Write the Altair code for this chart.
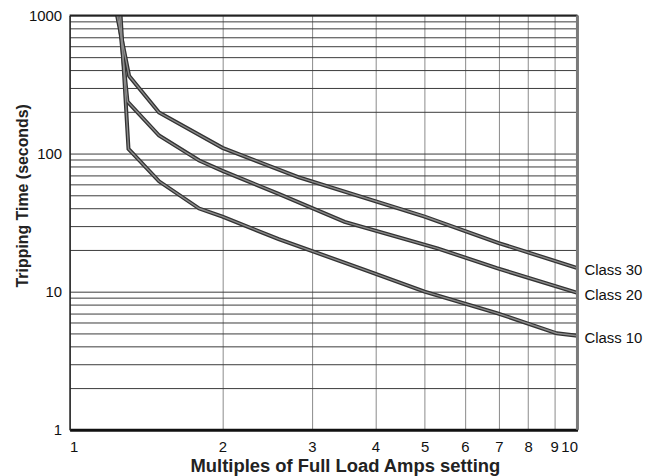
import altair as alt
import pandas as pd

# ---- data ----
x_ticks = [1, 2, 3, 4, 5, 6, 7, 8, 9, 10]
y_grid = [1, 2, 3, 4, 5, 6, 7, 8, 9,
          10, 20, 30, 40, 50, 60, 70, 80, 90,
          100, 200, 300, 400, 500, 600, 700, 800, 900, 1000]
y_labels = [1, 10, 100, 1000]

class30_x = [1.24, 1.31, 1.50, 2.0, 2.82, 5.0, 7.0, 10]
class30_y = [1000, 364, 198, 110, 67.5, 35, 22.5, 14.8]
class20_x = [1.25, 1.30, 1.50, 1.80, 2.0, 2.58, 3.48, 5.3, 6.94, 10]
class20_y = [1000, 238, 135, 89, 75, 51, 32, 20.6, 14.8, 9.8]
class10_x = [1.26, 1.306, 1.50, 1.80, 2.0, 2.58, 3.81, 5.0, 6.94, 9.1, 10]
class10_y = [1000, 108, 63, 40, 34.9, 24, 14.4, 10, 7.0, 5.0, 4.8]
series_names = ["Class 30", "Class 20", "Class 10"]

rows = []
for name, xs, ys in zip(series_names, [class30_x, class20_x, class10_x],
                        [class30_y, class20_y, class10_y]):
    for i, (xv, yv) in enumerate(zip(xs, ys)):
        rows.append({"series": name, "x": xv, "y": yv, "order": i})
df = pd.DataFrame(rows)
df_end = df.sort_values("order").groupby("series").tail(1)

W, H = 511, 417
FONT = "Liberation Sans"

xscale = alt.Scale(type="log", domain=[1, 10], nice=False)
yscale = alt.Scale(type="log", domain=[1, 1000], nice=False)

ylab_expr = "(" + " || ".join(f"datum.value == {v}" for v in y_labels) + ") ? format(datum.value, 'd') : ''"

x_axis = alt.Axis(
    values=x_ticks, format="d", grid=True, gridColor="#8a8a8a", gridWidth=1,
    ticks=False, domain=True, domainColor="#111111", domainWidth=3,
    labelPadding=10, labelFont=FONT, labelFontSize=15, labelColor="#111111",
    title="Multiples of Full Load Amps setting", titleFont=FONT, titleFontSize=18.5,
    titleFontWeight="bold", titleColor="#222222", titleX=277, titleY=42,
    titleBaseline="alphabetic", titleAlign="center",
)
y_axis = alt.Axis(
    values=y_grid, labelExpr=ylab_expr, grid=True, gridColor="#3a3a3a", gridWidth=1,
    ticks=False, domain=True, domainColor="#222222", domainWidth=1.5,
    labelPadding=8, labelFont=FONT, labelFontSize=15, labelColor="#111111",
    labelBaseline="middle",
    title="Tripping Time (seconds)", titleFont=FONT, titleFontSize=16,
    titleFontWeight="bold", titleColor="#222222", titleX=-42, titleY=181,
    titleAngle=270, titleBaseline="alphabetic", titleAlign="center",
)

lines_outer = alt.Chart(df).mark_line(color="#333333", strokeWidth=4).encode(
    x=alt.X("x:Q", scale=xscale, axis=x_axis),
    y=alt.Y("y:Q", scale=yscale, axis=y_axis),
    detail="series:N",
    order="order:Q",
)
lines_inner = alt.Chart(df).mark_line(color="#8c8c8c", strokeWidth=1.4).encode(
    x=alt.X("x:Q", scale=xscale),
    y=alt.Y("y:Q", scale=yscale),
    detail="series:N",
    order="order:Q",
)

labels = alt.Chart(df_end).mark_text(
    align="left", baseline="middle", dx=7, dy=2, font=FONT, fontSize=15, color="#111111"
).encode(
    x=alt.X("x:Q", scale=xscale),
    y=alt.Y("y:Q", scale=yscale),
    text="series:N",
)

frame_df = pd.DataFrame({"k": [0]})
top_rule = alt.Chart(frame_df).mark_rule(color="#222222", strokeWidth=2).encode(
    x=alt.value(0), x2=alt.value(W), y=alt.value(0)
)
right_rule = alt.Chart(frame_df).mark_rule(color="#7a7a7a", strokeWidth=3).encode(
    x=alt.value(W), y=alt.value(0), y2=alt.value(H)
)

chart = alt.layer(lines_outer, lines_inner, top_rule, right_rule, labels).properties(
    width=W, height=H,
    autosize=alt.AutoSizeParams(type="none"),
    padding={"left": 62, "top": 6, "right": 72, "bottom": 45},
).configure_view(stroke=None).configure(background="white")

chart.save("out.html", embed_options={"renderer": "svg", "actions": False})
